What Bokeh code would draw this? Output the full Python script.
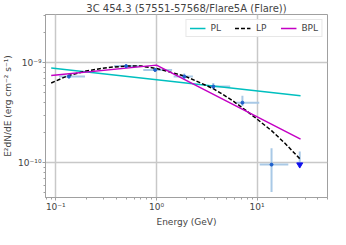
from bokeh.plotting import figure
from bokeh.models import (Legend, LegendItem, FixedTicker, CustomJSTickFormatter, Range1d)
from bokeh.embed import file_html
from bokeh.resources import INLINE

# ---------------- data ----------------
title_text = "3C 454.3 (57551-57568/Flare5A (Flare))"

# Power-law model (straight in log-log)
pl_e = [0.09, 27.0]
pl_f = [8.9e-10, 4.7e-10]

# Log-parabola model
lp_e = [0.09, 0.13, 0.2, 0.33, 0.5, 0.7, 1.0, 1.9, 2.7, 3.7, 5.5, 7.9, 13.9, 19.0, 27.0]
lp_f = [6.3e-10, 7.4e-10, 8.3e-10, 9.0e-10, 9.3e-10, 9.3e-10, 8.8e-10, 7.4e-10,
        6.35e-10, 5.5e-10, 4.3e-10, 3.3e-10, 2.1e-10, 1.56e-10, 1.08e-10]

# Broken power law model
bpl_e = [0.09, 1.0, 27.0]
bpl_f = [7.5e-10, 9.5e-10, 1.73e-10]

# Flux points
pt_e = [0.135, 0.5, 0.97, 1.89, 3.67, 7.14, 13.9]
pt_e_lo = [0.108, 0.38, 0.74, 1.48, 3.3, 6.2, 10.6]
pt_e_hi = [0.195, 0.66, 1.43, 2.3, 5.4, 10.5, 20.4]
pt_f = [7.3e-10, 9.3e-10, 8.5e-10, 7.3e-10, 5.8e-10, 4.0e-10, 0.96e-10]
pt_f_lo = [7.0e-10, 9.0e-10, 8.2e-10, 6.85e-10, 5.5e-10, 3.7e-10, 0.51e-10]
pt_f_hi = [7.6e-10, 9.6e-10, 8.9e-10, 7.85e-10, 6.3e-10, 4.7e-10, 1.4e-10]

# Upper limit
ul_e = [26.5]
ul_f = [1.3e-10]
ul_f_arrow = [0.96e-10]

x_major = [0.1, 1.0, 10.0]
y_major = [1e-10, 1e-9]
x_minor = [m * d for d in [0.01, 0.1, 1.0, 10.0] for m in range(2, 10)]
y_minor = [m * d for d in [1e-11, 1e-10, 1e-9] for m in range(2, 10)]

FONT = "DejaVu Sans"

p = figure(width=330, height=229, x_axis_type="log", y_axis_type="log",
           x_range=Range1d(0.079, 50), y_range=Range1d(4.5e-11, 3.05e-9),
           output_backend="svg", toolbar_location=None,
           min_border_left=0, min_border_right=3, min_border_top=0, min_border_bottom=0)

p.title.text = title_text
p.title.align = "center"
p.title.text_font = FONT
p.title.text_font_size = "10px"
p.title.text_font_style = "normal"
p.title.standoff = 1
p.title.offset = 0

sup_code = """
const e = Math.round(Math.log10(tick));
const sup = {'-':'\u207b','0':'\u2070','1':'\u00b9','2':'\u00b2','3':'\u00b3','4':'\u2074','5':'\u2075','6':'\u2076','7':'\u2077','8':'\u2078','9':'\u2079'};
return '10' + String(e).split('').map(c => sup[c]).join('');
"""
for ax, maj, mnr in [(p.xaxis[0], x_major, x_minor), (p.yaxis[0], y_major, y_minor)]:
    ax.ticker = FixedTicker(ticks=maj, minor_ticks=mnr)
    ax.formatter = CustomJSTickFormatter(code=sup_code)
    ax.major_label_text_font = FONT
    ax.major_label_text_font_size = "9px"
    ax.axis_label_text_font = FONT
    ax.axis_label_text_font_size = "9px"
    ax.axis_label_text_font_style = "normal"
    ax.axis_line_color = "#a0a0a0"
    ax.major_tick_line_color = "#a0a0a0"
    ax.minor_tick_line_color = "#a0a0a0"
    ax.major_tick_out = 3
    ax.major_tick_in = 0
    ax.minor_tick_out = 2
    ax.minor_tick_in = 0
    ax.major_label_standoff = 1
    ax.axis_label_standoff = 2

p.xaxis.axis_label = "Energy (GeV)"
p.yaxis.axis_label = "E\u00b2dN/dE (erg cm\u207b\u00b2 s\u207b\u00b9)"

p.grid.grid_line_color = "#c8c8c8"
p.grid.grid_line_width = 1.5
p.outline_line_color = "#a0a0a0"
p.outline_line_width = 1

# error bars (under model lines)
err_col = "#a9c9e6"
p.segment(x0=pt_e_lo, y0=pt_f, x1=pt_e_hi, y1=pt_f, line_color=err_col, line_width=2)
p.segment(x0=pt_e, y0=pt_f_lo, x1=pt_e, y1=pt_f_hi, line_color=err_col, line_width=2)
p.segment(x0=ul_e, y0=ul_f, x1=ul_e, y1=ul_f_arrow, line_color=err_col, line_width=2)

r_pl = p.line(pl_e, pl_f, line_color="#00bfbf", line_width=1.5)
r_lp = p.line(lp_e, lp_f, line_color="black", line_width=1.5, line_dash="4 2")
r_bpl = p.line(bpl_e, bpl_f, line_color="#c400c4", line_width=1.5)

p.scatter(pt_e, pt_f, size=3, color="#1f5fcc")
p.scatter(ul_e, ul_f_arrow, marker="inverted_triangle", size=6, color="#1010ee")

legend = Legend(items=[LegendItem(label="PL", renderers=[r_pl]),
                       LegendItem(label="LP", renderers=[r_lp]),
                       LegendItem(label="BPL", renderers=[r_bpl])],
                orientation="horizontal", location="top_right",
                label_text_font=FONT, label_text_font_size="9px",
                border_line_color="#d0d0d0", background_fill_alpha=0.9,
                glyph_width=16, glyph_height=10, spacing=14, padding=3,
                margin=5, label_standoff=5, label_height=10, label_width=10)
p.add_layout(legend)

open("out.html", "w").write(file_html(p, INLINE))
